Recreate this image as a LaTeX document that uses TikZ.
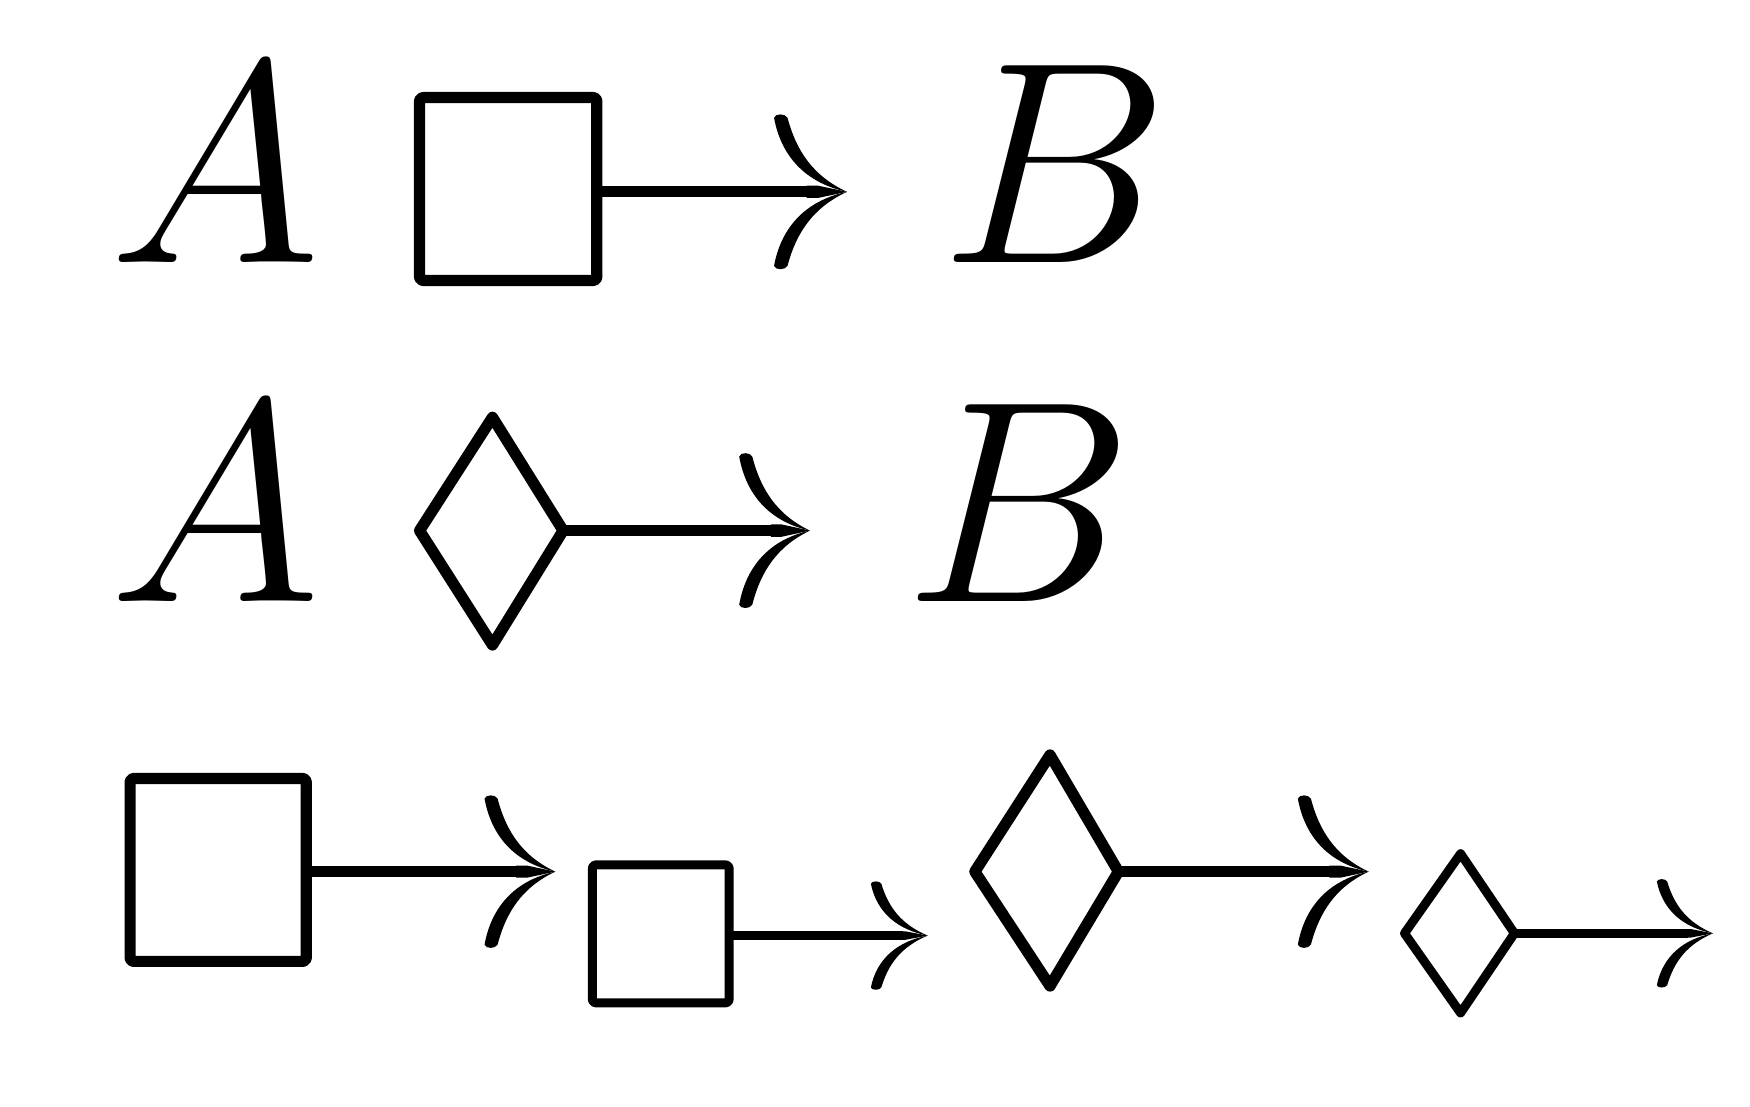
\documentclass[tikz,border=0pt]{standalone}
\usepackage{fix-cm}
\newcommand\myhead[4]{%
  \begin{scope}[shift={(#1,#2)},xscale=#3,yscale=#4]
    \fill (-65,-66) .. controls (-58,-28) and (-33,-7) .. (0,0)
      .. controls (-30,-14) and (-45,-36) .. (-53,-66)
      .. controls (-55,-70) and (-64,-70) .. cycle;
    \fill (-65,66) .. controls (-58,28) and (-33,7) .. (0,0)
      .. controls (-30,14) and (-45,36) .. (-53,66)
      .. controls (-55,70) and (-64,70) .. cycle;
    \fill (-36,-5.5) -- (-26,-5.5) -- (0,0) -- (-26,5.5) -- (-36,5.5) -- cycle;
  \end{scope}}
\begin{document}
\begin{tikzpicture}[x=0.01cm,y=-0.01cm,line join=round,
  big/.style={line width=0.1cm},
  small/.style={line width=0.08cm},
  letter/.style={inner sep=0pt,anchor=base,font=\fontsize{73}{78}\selectfont}]
\useasboundingbox (0,0) rectangle (1560,986);
% row 1
\node[letter] (a1) at (192,234) {$A$};
\draw[big,rounded corners=0.03cm] (374,87) rectangle (532,250);
\coordinate (s1) at (532,171);
\coordinate (t1) at (730,171);
\draw[big] (s1) -- (t1);
\myhead{755}{171}{1.0}{1.0}
\node[letter] (b1) at (940,234) {$B$};
% row 2
\node[letter] (a2) at (192,536) {$A$};
\draw[big] (374,473) -- (439,372) -- (502,473) -- (439,575) -- cycle;
\coordinate (s2) at (502,473);
\coordinate (t2) at (698,473);
\draw[big] (s2) -- (t2);
\myhead{722}{473}{0.97}{1.0}
\node[letter] (b2) at (908,536) {$B$};
% row 3
\draw[big,rounded corners=0.03cm] (116,694) rectangle (273,857);
\draw[big] (273,777) -- (470,777);
\myhead{495}{777}{0.97}{0.985}
\draw[small,rounded corners=0.03cm] (528,771) rectangle (650,894);
\draw[small] (650,834) -- (805,834);
\myhead{827}{834}{0.78}{0.70}
\draw[big] (869,777) -- (936,673) -- (997,777) -- (936,879) -- cycle;
\draw[big] (997,777) -- (1195,777);
\myhead{1220}{777}{0.97}{0.985}
\draw[small] (1252,832) -- (1302,761) -- (1350,832) -- (1302,903) -- cycle;
\draw[small] (1350,832) -- (1505,832);
\myhead{1527}{832}{0.77}{0.70}
\end{tikzpicture}
\end{document}
